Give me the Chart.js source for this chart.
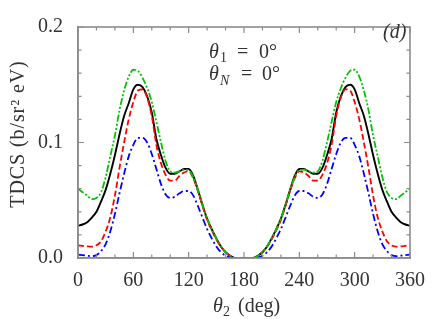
<!DOCTYPE html>
<html><head><meta charset="utf-8">
<script src="https://cdn.jsdelivr.net/npm/chart.js@4/dist/chart.umd.min.js"></script>
<style>html,body{margin:0;padding:0;background:#fff}</style>
</head><body>
<canvas id="c" width="436" height="319"></canvas>
<script>
const angles = [0,5,10,15,20,25,30,35,40,45,50,55,60,65,70,75,80,85,90,95,100,105,110,115,120,125,130,135,140,145,150,155,160,165,170,175,180,
  185,190,195,200,205,210,215,220,225,230,235,240,245,250,255,260,265,270,275,280,285,290,295,300,305,310,315,320,325,330,335,340,345,350,355,360];
const blackSolid = [0.028,0.029,0.031,0.035,0.040,0.049,0.059,0.073,0.089,0.107,0.123,0.134,0.146,0.150,0.148,0.140,0.126,0.103,0.089,0.078,0.073,0.073,0.075,0.077,0.077,0.071,0.059,0.046,0.034,0.025,0.017,0.010,0.005,0.002,0.000,0.000,0.000,
  0.000,0.000,0.002,0.005,0.010,0.017,0.025,0.034,0.046,0.059,0.071,0.077,0.077,0.075,0.073,0.073,0.078,0.089,0.103,0.126,0.140,0.148,0.150,0.146,0.134,0.123,0.107,0.089,0.073,0.059,0.049,0.040,0.035,0.031,0.029,0.028];
const redDashed = [0.011,0.0105,0.010,0.0098,0.011,0.0145,0.023,0.035,0.054,0.078,0.100,0.120,0.135,0.145,0.146,0.139,0.123,0.098,0.082,0.072,0.067,0.067,0.071,0.074,0.075,0.069,0.058,0.045,0.033,0.024,0.016,0.010,0.005,0.002,0.000,0.000,0.000,
  0.000,0.000,0.002,0.005,0.010,0.016,0.024,0.033,0.045,0.058,0.069,0.075,0.074,0.071,0.067,0.067,0.072,0.082,0.098,0.123,0.139,0.146,0.145,0.135,0.120,0.100,0.078,0.054,0.035,0.023,0.0145,0.011,0.0098,0.010,0.0105,0.011];
const blueDashDot = [0.003,0.0025,0.002,0.0016,0.0025,0.006,0.012,0.023,0.038,0.056,0.073,0.088,0.098,0.104,0.104,0.100,0.090,0.077,0.064,0.055,0.052,0.053,0.056,0.058,0.058,0.054,0.045,0.035,0.025,0.017,0.010,0.005,0.002,0.0005,0.000,0.000,0.000,
  0.000,0.000,0.0005,0.002,0.005,0.010,0.017,0.025,0.035,0.045,0.054,0.058,0.058,0.056,0.053,0.052,0.055,0.064,0.077,0.090,0.100,0.104,0.104,0.098,0.088,0.073,0.056,0.038,0.023,0.012,0.006,0.0025,0.0016,0.002,0.0025,0.003];
const greenDashDotDot = [0.060,0.057,0.054,0.051,0.052,0.057,0.070,0.088,0.106,0.128,0.145,0.157,0.163,0.162,0.156,0.147,0.135,0.118,0.100,0.084,0.075,0.074,0.075,0.0765,0.076,0.070,0.059,0.046,0.034,0.025,0.017,0.010,0.005,0.002,0.000,0.000,0.000,
  0.000,0.000,0.002,0.005,0.010,0.017,0.025,0.034,0.046,0.059,0.070,0.076,0.0765,0.075,0.074,0.075,0.084,0.100,0.118,0.135,0.147,0.156,0.162,0.163,0.157,0.145,0.128,0.106,0.088,0.070,0.057,0.052,0.051,0.054,0.057,0.060];
const xTickLabels = ['0','60','120','180','240','300','360'];
const yTickLabels = ['0.0','0.1','0.2'];
const xTitle = ['θ', '2', '(deg)'];
const yTitle = 'TDCS (b/sr² eV)';

const FONT = '"Liberation Serif", "Times New Roman", serif';
const TXT = '#333';
const AXC = '#8c8c8c';

function pts(arr){ return angles.map((a,i)=>({x:a,y:arr[i]})); }

const framePlugin = {
  id:'frame',
  afterDraw(chart){
    const ctx = chart.ctx, a = chart.chartArea;
    const xs = chart.scales.x, ys = chart.scales.y;
    ctx.save();
    ctx.strokeStyle = AXC; ctx.lineWidth = 1.6;
    ctx.strokeRect(a.left, a.top, a.right-a.left, a.bottom-a.top);
    ctx.lineWidth = 1.2;
    ctx.beginPath();
    for(let v=0; v<=360; v+=20){
      const p = xs.getPixelForValue(v);
      const len = (v%60===0)?6:3.5;
      ctx.moveTo(p,a.bottom); ctx.lineTo(p,a.bottom-len);
      ctx.moveTo(p,a.top); ctx.lineTo(p,a.top+len);
    }
    for(let k=0; k<=10; k++){
      const v = k*0.02;
      const p = ys.getPixelForValue(v);
      const len = (k%5===0)?6:3.5;
      ctx.moveTo(a.left,p); ctx.lineTo(a.left+len,p);
      ctx.moveTo(a.right,p); ctx.lineTo(a.right-len,p);
    }
    ctx.stroke();
    ctx.fillStyle = TXT;
    ctx.textBaseline = 'alphabetic';
    ctx.textAlign = 'left';
    // y title
    ctx.save();
    ctx.translate(24, 134);
    ctx.rotate(-Math.PI/2);
    ctx.font = '20px ' + FONT;
    ctx.letterSpacing = '0.9px';
    ctx.textAlign = 'center';
    ctx.fillText(yTitle, 0, 0);
    ctx.restore();
    // x title
    ctx.font = 'italic 20px ' + FONT;
    ctx.fillText(xTitle[0], 213, 312);
    ctx.font = '14px ' + FONT;
    ctx.fillText(xTitle[1], 223, 316);
    ctx.font = '20px ' + FONT;
    ctx.fillText(xTitle[2], 238, 312);
    // annotations
    ctx.font = 'italic 20px ' + FONT;
    ctx.fillText('θ', 209, 58);
    ctx.fillText('θ', 209, 80);
    ctx.font = '14px ' + FONT;
    ctx.fillText('1', 220, 62);
    ctx.font = 'italic 14px ' + FONT;
    ctx.fillText('N', 220, 85);
    ctx.font = '20px ' + FONT;
    ctx.fillText('=', 237, 58);
    ctx.fillText('0°', 259, 58);
    ctx.fillText('=', 241, 80);
    ctx.fillText('0°', 262, 80);
    ctx.font = 'italic 20px ' + FONT;
    ctx.fillText('(d)', 383, 38);
    ctx.restore();
  }
};

new Chart(document.getElementById('c'), {
  type:'line',
  data:{ datasets:[
    {label:'green', data:pts(greenDashDotDot), borderColor:'#00c400', borderWidth:1.8, borderDash:[7,2,2,2,2,2], pointRadius:0, cubicInterpolationMode:'monotone', fill:false},
    {label:'blue', data:pts(blueDashDot), borderColor:'#0000ff', borderWidth:1.8, borderDash:[7,3,2,3], pointRadius:0, cubicInterpolationMode:'monotone', fill:false},
    {label:'red', data:pts(redDashed), borderColor:'#ff0000', borderWidth:1.8, borderDash:[6,3], pointRadius:0, cubicInterpolationMode:'monotone', fill:false},
    {label:'black', data:pts(blackSolid), borderColor:'#000000', borderWidth:1.9, pointRadius:0, cubicInterpolationMode:'monotone', fill:false}
  ]},
  options:{
    responsive:false, animation:false, devicePixelRatio:1,
    layout:{padding:{top:11,right:19,bottom:0,left:0}},
    plugins:{legend:{display:false}, tooltip:{enabled:false}},
    scales:{
      x:{type:'linear', min:0, max:360,
        afterFit(s){ s.height = 61; },
        ticks:{stepSize:60, autoSkip:false, maxRotation:0, padding:11, color:TXT, font:{family:FONT, size:20},
          callback:(v)=> xTickLabels[Math.round(v/60)]},
        grid:{display:true, drawOnChartArea:false, drawTicks:false},
        border:{display:true, color:AXC, width:1.6},
        title:{display:false}
      },
      y:{type:'linear', min:0, max:0.2,
        afterFit(s){ s.width = 78; },
        ticks:{stepSize:0.1, padding:15, color:TXT, font:{family:FONT, size:20},
          callback:(v)=> yTickLabels[Math.round(v/0.1)]},
        grid:{display:true, drawOnChartArea:false, drawTicks:false},
        border:{display:true, color:AXC, width:1.6},
        title:{display:false}
      }
    }
  },
  plugins:[framePlugin]
});
</script>
</body></html>
